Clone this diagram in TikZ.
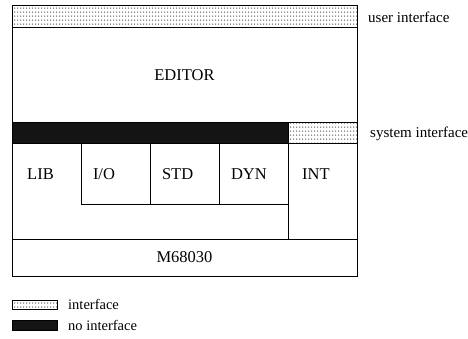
\documentclass[tikz,border=0pt]{standalone}
\usepackage{fontspec}
\setmainfont{Liberation Serif}
\usetikzlibrary{positioning, patterns, calc}

\pgfdeclarepatternformonly{bigdots}{\pgfqpoint{-1pt}{-1pt}}{\pgfqpoint{2pt}{2.5pt}}{\pgfqpoint{3pt}{3.5pt}}{%
  \pgfpathcircle{\pgfqpoint{0pt}{0pt}}{0.75pt}%
  \pgfusepath{fill}%
}

\begin{document}
\begin{tikzpicture}[
    x=1pt, y=1pt,
    box/.style={
      draw=black,
      line width=1pt,
      outer sep=0pt,
      inner sep=0pt,
      font=\fontsize{16.5}{18}\selectfont,
    },
    iface/.style={box, pattern=bigdots, pattern color=black!75},
    noiface/.style={box, fill=black!92},
    cell/.style={box, minimum height=60pt, text width=45pt, inner xsep=12pt, align=left},
    txt/.style={font=\fontsize{16.5}{18}\selectfont, inner sep=0pt},
    side/.style={font=\fontsize{15}{17}\selectfont, inner sep=0pt},
    legend/.style={font=\fontsize{14.5}{16}\selectfont, inner sep=0pt},
  ]
    \useasboundingbox (0,0) rectangle (468,-339);

    % editor layer
    \node[iface, anchor=north west, minimum width=345pt, minimum height=22pt] (uiband) at (12,-6) {};
    \node[box, below=0pt of uiband, minimum width=345pt, minimum height=95pt] (editor) {EDITOR};

    % system interface
    \node[noiface, anchor=north west, minimum width=276pt, minimum height=21pt] (sysno) at (editor.south west) {};
    \node[iface, right=0pt of sysno, minimum width=69pt, minimum height=21pt] (sysyes) {};

    % runtime modules
    \node[box, anchor=north west, minimum width=276pt, minimum height=95pt] (libframe) at (sysno.south west) {};
    \node[box, right=0pt of libframe, minimum width=69pt, minimum height=95pt] (intframe) {};
    \node[cell, anchor=north west] (io) at (81,-144) {I/O};
    \node[cell, right=0pt of io] (std) {STD};
    \node[cell, right=0pt of std] (dyn) {DYN};
    \node[txt, anchor=west] (libtxt) at ($(libframe.west |- io.center)+(15,0)$) {LIB};
    \node[txt, anchor=west] (inttxt) at ($(intframe.west |- io.center)+(14,0)$) {INT};

    % hardware
    \node[box, anchor=north west, minimum width=345pt, minimum height=37pt] (cpu) at (libframe.south west) {M68030};

    % side labels
    \node[side, anchor=west] (uitxt) at ($(uiband.east)+(11,0)$) {user interface};
    \node[side, anchor=west] (systxt) at ($(sysyes.east)+(13,0)$) {system interface};

    % legend
    \node[iface, anchor=north west, minimum width=45pt, minimum height=9pt] (keyyes) at (12,-300) {};
    \node[noiface, anchor=north west, minimum width=45pt, minimum height=10pt] (keyno) at (12,-320) {};
    \node[legend, right=11pt of keyyes] (keyyestxt) {interface};
    \node[legend, right=11pt of keyno] (keynotxt) {no interface};
  \end{tikzpicture}
\end{document}
